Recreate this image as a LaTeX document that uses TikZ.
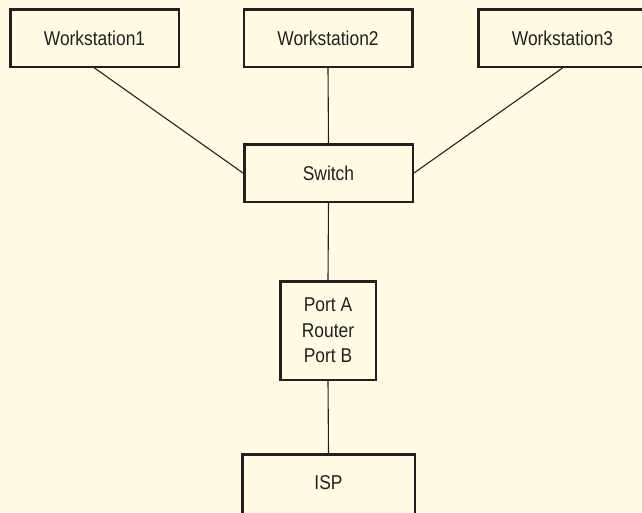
\documentclass[tikz,border=0pt]{standalone}
\usepackage{fontspec}
\setmainfont{Liberation Sans}[FakeStretch=0.87]
\definecolor{bgcol}{RGB}{255,252,227}
\definecolor{ink}{RGB}{35,31,32}
\begin{document}
\begin{tikzpicture}[x=1pt,y=-1pt,
  boxnode/.style={draw=ink,line width=2.5pt,fill=bgcol,text=ink,inner sep=0pt,
    minimum width=168.5pt,minimum height=57.5pt,align=center,
    font=\fontsize{20}{25.5}\selectfont},
  link/.style={draw=ink,line width=1.1pt}]
\fill[bgcol] (0,0) rectangle (642,512);
\useasboundingbox (0,0) rectangle (642,512);
\begin{scope}
\clip (0,0) rectangle (642,512);
\node[boxnode] (ws1) at (94.5,38) {Workstation1};
\node[boxnode] (ws2) at (328,38) {Workstation2};
\node[boxnode] (ws3) at (562.5,38) {Workstation3};
\node[boxnode] (sw) at (328.5,173) {Switch};
\node[boxnode,minimum width=95.5pt,minimum height=98.5pt] (rt) at (328,330.5) {Port A\\Router\\Port B};
\node[boxnode,minimum width=172.5pt,minimum height=69.5pt] (isp) at (328.5,489) {\raisebox{6pt}[\height][\depth]{ISP}};
\draw[link] (ws1.south) -- (sw.west);
\draw[link] (ws2.south) -- (sw.north);
\draw[link] (ws3.south) -- (sw.east);
\draw[link] (sw.south) -- (rt.north);
\draw[link] (rt.south) -- (isp.north);
\end{scope}
\end{tikzpicture}
\end{document}
